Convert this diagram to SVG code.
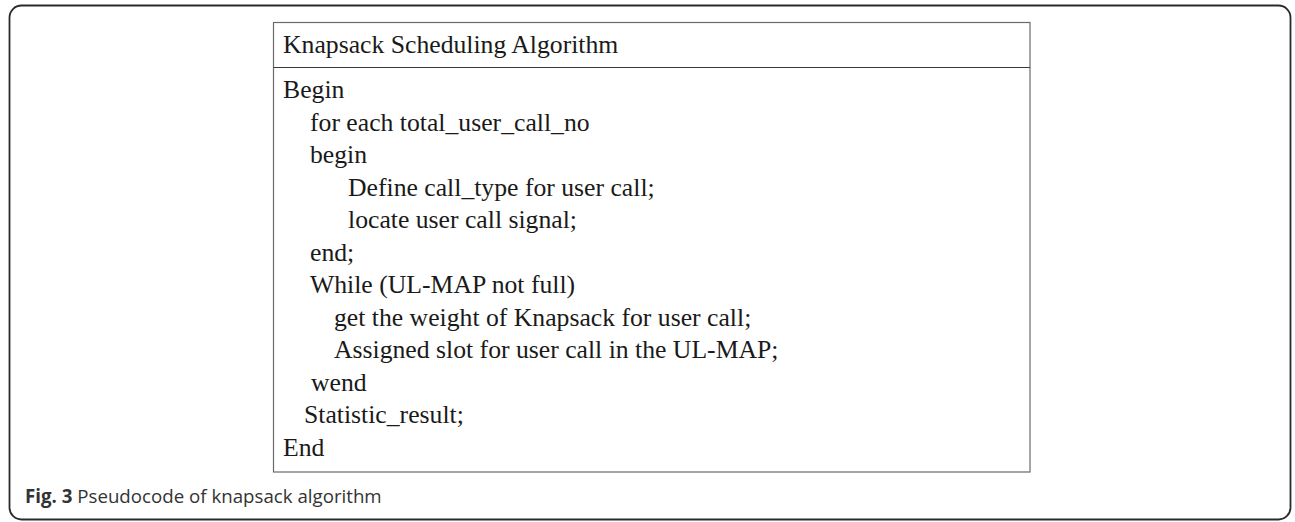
<svg xmlns="http://www.w3.org/2000/svg" width="1295" height="522" viewBox="0 0 1295 522">
<style>
.code{font-family:"Liberation Serif","Times New Roman",serif;font-size:25.7px;fill:#1a1a1a}
.cap{font-family:"Open Sans","Noto Sans",sans-serif;font-size:18.7px;fill:#333}
</style>
<rect x="0" y="0" width="1295" height="522" fill="#fff"/>
<rect id="frame" x="9.5" y="5.5" width="1281" height="514" rx="12" ry="12" fill="none" stroke="#2a2a2a" stroke-width="1.8"/>
<g id="algorithm-box">
<rect x="273.5" y="22.5" width="756.5" height="449.5" fill="none" stroke="#6a6a6a" stroke-width="1.2"/>
<line x1="273.5" y1="67.5" x2="1030" y2="67.5" stroke="#3a3a3a" stroke-width="1.2"/>
<text class="code" x="283" y="53">Knapsack Scheduling Algorithm</text>
<text class="code" x="283" y="98">Begin</text>
<text class="code" x="310" y="130.5">for each total_user_call_no</text>
<text class="code" x="310" y="163">begin</text>
<text class="code" x="348" y="195.5">Define call_type for user call;</text>
<text class="code" x="348" y="228">locate user call signal;</text>
<text class="code" x="310" y="260.5">end;</text>
<text class="code" x="310" y="293">While (UL-MAP not full)</text>
<text class="code" x="334" y="325.5">get the weight of Knapsack for user call;</text>
<text class="code" x="334" y="358">Assigned slot for user call in the UL-MAP;</text>
<text class="code" x="311" y="390.5">wend</text>
<text class="code" x="304" y="423">Statistic_result;</text>
<text class="code" x="283" y="455.5">End</text>
</g>
<g id="caption">
<text class="cap" x="25" y="503"><tspan font-weight="bold">Fig. 3</tspan> Pseudocode of knapsack algorithm</text>
</g>
</svg>
